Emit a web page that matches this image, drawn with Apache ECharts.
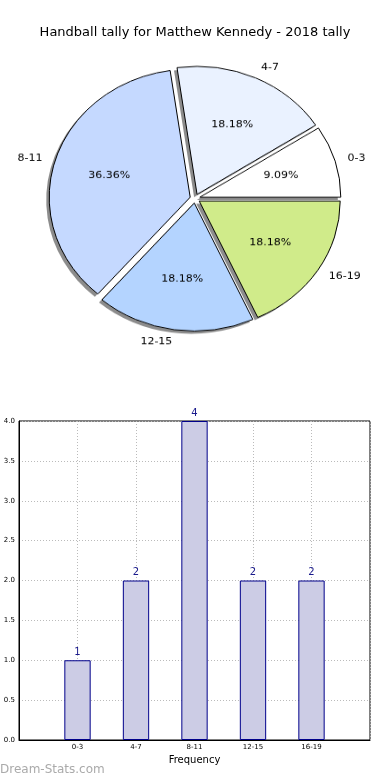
<!DOCTYPE html>
<html>
<head>
<meta charset="utf-8">
<script src="https://cdn.jsdelivr.net/npm/echarts@6/dist/echarts.min.js"></script>
<style>
html,body{margin:0;padding:0;background:#fff}
#wrap{position:relative;width:390px;height:780px;overflow:hidden}
#p{position:absolute;left:0;top:0;width:390px;height:400px;transform:scaleY(0.908);transform-origin:195px 198.5px}
#c{position:absolute;left:0;top:0;width:390px;height:780px}
</style>
</head>
<body>
<div id="wrap"><div id="p"></div><div id="c"></div></div>
<script>
const titleText = 'Handball tally for Matthew Kennedy - 2018 tally';
const categories = ['0-3', '4-7', '8-11', '12-15', '16-19'];
const counts = [1, 2, 4, 2, 2];
const sliceColors = ['#ffffff', '#eaf2ff', '#c5d9ff', '#b4d4ff', '#d0eb8a'];
const yTicks = [0, 0.5, 1, 1.5, 2, 2.5, 3, 3.5, 4];
const xAxisName = 'Frequency';
const watermark = 'Dream-Stats.com';

const FONT = 'DejaVu Sans';
const R = 141;
const CENTER = [195, 198.5];
const OFFSET = 5;
const total = counts.reduce((a, b) => a + b, 0);

const pieData = categories.map((c, i) => ({
  name: c, value: counts[i], selected: true,
  itemStyle: { color: sliceColors[i] }
}));
const shadowData = categories.map((c, i) => ({ name: c, value: counts[i], selected: true }));
const pctData = categories.map((c, i) => ({ name: c, value: counts[i], selected: true }));

const xCats = [''].concat(categories).concat(['']);
const barData = ['-'].concat(counts).concat(['-']);

const pie = echarts.init(document.getElementById('p'));
pie.setOption({
  animation: false,
  textStyle: { fontFamily: FONT },
  series: [
    {
      type: 'pie', z: 1, silent: true, radius: R, center: [CENTER[0] - 3, CENTER[1] + 3],
      startAngle: 0, clockwise: false, selectedMode: 'multiple', selectedOffset: OFFSET,
      data: shadowData, label: { show: false }, labelLine: { show: false },
      itemStyle: { color: 'rgba(0,0,0,0.45)', borderWidth: 0 },
      select: { itemStyle: { color: 'rgba(0,0,0,0.45)', borderWidth: 0 } },
      emphasis: { disabled: true }
    },
    {
      type: 'pie', z: 2, silent: true, radius: R, center: CENTER,
      startAngle: 0, clockwise: false, selectedMode: 'multiple', selectedOffset: OFFSET,
      avoidLabelOverlap: false,
      data: pieData,
      itemStyle: { borderColor: '#000', borderWidth: 1 },
      select: { itemStyle: { borderColor: '#000', borderWidth: 1 } },
      emphasis: { disabled: true },
      label: { show: true, position: 'outside', formatter: '{b}', fontSize: 11, color: '#000', fontFamily: FONT },
      labelLine: { show: false, length: 13, length2: -5 }
    },
    {
      type: 'pie', z: 3, silent: true, radius: [22, R], center: CENTER,
      startAngle: 0, clockwise: false, selectedMode: 'multiple', selectedOffset: OFFSET,
      data: pctData,
      itemStyle: { color: 'transparent', borderWidth: 0 },
      select: { itemStyle: { color: 'transparent', borderWidth: 0 } },
      emphasis: { disabled: true },
      label: { show: true, position: 'inside', fontSize: 11, color: '#000', fontFamily: FONT,
        formatter: p => (p.value / total * 100).toFixed(2) + '%' },
      labelLine: { show: false }
    }
  ]
});

const chart = echarts.init(document.getElementById('c'));
chart.setOption({
  animation: false,
  textStyle: { fontFamily: FONT },
  title: [
    { text: titleText, left: 'center', top: 21, textStyle: { fontFamily: FONT, fontSize: 13, fontWeight: 'normal', color: '#000' } },
    { text: watermark, left: 0, top: 764, padding: 0, textStyle: { fontFamily: FONT, fontSize: 12, fontWeight: 'normal', color: '#aaaaaa' } }
  ],
  grid: { left: 19, right: 20, top: 421, bottom: 40, show: true, borderColor: '#000', borderWidth: 1, backgroundColor: 'transparent' },
  xAxis: {
    type: 'category', data: xCats, boundaryGap: false,
    name: xAxisName, nameLocation: 'middle', nameGap: 15,
    nameTextStyle: { fontFamily: FONT, fontSize: 10, color: '#000' },
    axisLine: { lineStyle: { color: '#000' } },
    axisTick: { show: false },
    axisLabel: { interval: 0, fontSize: 7, color: '#000', margin: 4 },
    splitLine: { show: true, interval: 0, lineStyle: { color: '#bbbbbb', type: [1, 2], width: 1 } }
  },
  yAxis: {
    type: 'value', min: yTicks[0], max: yTicks[yTicks.length - 1], interval: yTicks[1] - yTicks[0],
    axisLine: { show: true, lineStyle: { color: '#000' } },
    axisTick: { show: false },
    axisLabel: { fontSize: 7, color: '#000', margin: 4, formatter: v => v.toFixed(1) },
    splitLine: { show: true, lineStyle: { color: '#bbbbbb', type: [1, 2], width: 1 } }
  },
  series: [
    {
      type: 'bar', data: barData, barWidth: '45%',
      itemStyle: { color: '#ccccE5', borderColor: '#00008b', borderWidth: 1 },
      label: { show: true, position: 'top', color: '#1a1a8c', fontSize: 10, distance: 3 },
      emphasis: { disabled: true }
    }
  ]
});
</script>
</body>
</html>
